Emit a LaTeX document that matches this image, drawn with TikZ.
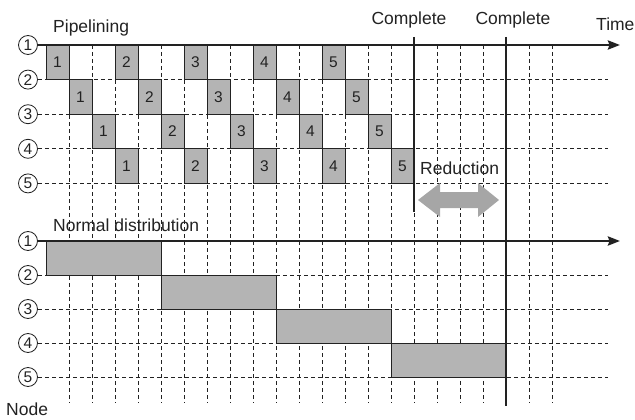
\documentclass[tikz,border=0pt]{standalone}
\usepackage{fontspec}
\setmainfont{Liberation Sans}
\usetikzlibrary{arrows.meta}
\definecolor{ink}{HTML}{222222}
\definecolor{cellgray}{HTML}{B4B4B4}
\definecolor{arrowgray}{HTML}{A6A6A6}
\begin{document}
\begin{tikzpicture}[x=1pt,y=-1pt,
  txt/.style={font=\fontsize{17.5}{20}\selectfont, text=ink, inner sep=0pt},
  nodenum/.style={circle, draw=ink, fill=white, minimum size=19pt, inner sep=0pt,
    line width=0.8pt, font=\fontsize{15.5}{16}\selectfont, text=ink},
  cell/.style={draw=ink, fill=cellgray, inner sep=0pt, line width=0.8pt,
    font=\fontsize{15.5}{16}\selectfont, text=ink},
  grid/.style={ink, line width=0.8pt, dash pattern=on 4pt off 3pt},
  axis/.style={ink, line width=2.6pt, -{Stealth[length=12pt,width=9pt,inset=1.5pt]}},
  finish/.style={ink, line width=2pt}]
\useasboundingbox (0,0) rectangle (635,420);

% vertical time grid, shared by both charts
\foreach \k in {1,...,22}
  \draw[grid] ({46+23*\k},45) -- ({46+23*\k},403);

% ---------- pipelined schedule ----------
\foreach \r in {1,...,5}
  \node[nodenum] (n\r) at (28,{45+34.6*(\r-1)}) {\r};
\foreach \r in {2,...,5}
  \draw[grid] (n\r.east) -- (608,{45+34.6*(\r-1)});

\foreach \j in {1,...,5}
  \foreach \b in {1,...,4}
    \node[cell, minimum width=23pt, minimum height=34.6pt] (p\j-\b)
      at ({57.5+23*(3*(\j-1)+\b-1)},{62.3+34.6*(\b-1)}) {\j};

\coordinate (tend) at (620,45);
\draw[axis] (n1.east) -- (tend);

% ---------- normal distribution ----------
\foreach \r in {1,...,5}
  \node[nodenum] (m\r) at (28,{241+34*(\r-1)}) {\r};
\foreach \r in {2,...,5}
  \draw[grid] (m\r.east) -- (608,{241+34*(\r-1)});

\foreach \b in {1,...,4}
  \node[cell, minimum width=115pt, minimum height=34pt] (d\b)
    at ({103.5+115*(\b-1)},{258+34*(\b-1)}) {};

\coordinate (bend) at (620,241);
\draw[axis] (m1.east) -- (bend);

% completion markers
\coordinate (c1top) at (414,37);
\coordinate (c1bot) at (414,212);
\coordinate (c2top) at (506,37);
\coordinate (c2bot) at (506,406);
\draw[finish] (c1top) -- (c1bot);
\draw[finish] (c2top) -- (c2bot);

% reduction double arrow
\fill[arrowgray] (418,200) -- (440,183) -- (440,192) -- (478,192) -- (478,183)
  -- (499,200) -- (478,217) -- (478,208) -- (440,208) -- (440,217) -- cycle;

% labels
\node[txt, anchor=base west] (lpipe) at (53,33) {Pipelining};
\node[txt, anchor=base west] (lnorm) at (53,231) {Normal distribution};
\node[txt, anchor=base] (lc1) at (409,25) {Complete};
\node[txt, anchor=base] (lc2) at (513,25) {Complete};
\node[txt, anchor=base west] (ltime) at (596,31) {Time};
\node[txt, anchor=base west] (lred) at (420,174) {Reduction};
\node[txt, anchor=base west] (lnode) at (6,415) {Node};
\end{tikzpicture}
\end{document}
